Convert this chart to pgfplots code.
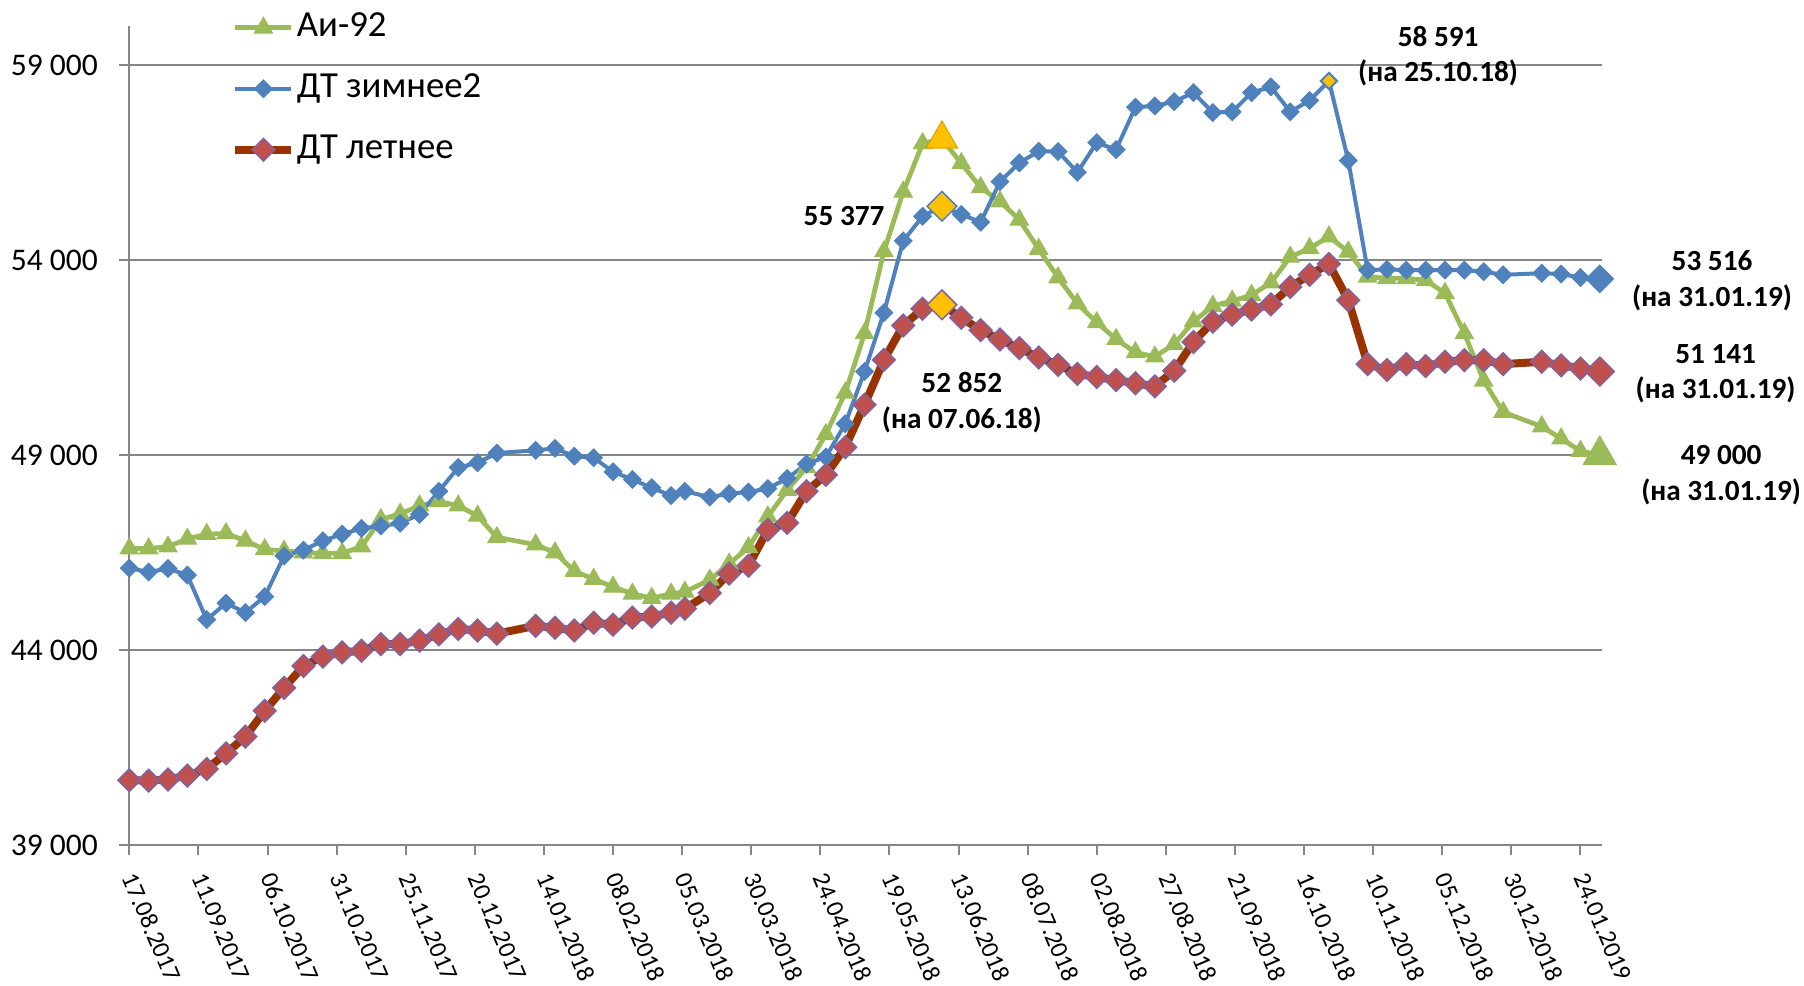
\documentclass[border=0pt]{standalone}
\usepackage{pgfplots}
\pgfplotsset{compat=1.18}
\usepackage{fontspec}
\setmainfont{Carlito}
\definecolor{gr}{HTML}{9BBB59}
\definecolor{bl}{HTML}{4F81BD}
\definecolor{rline}{HTML}{993300}
\definecolor{rfill}{HTML}{C0504D}
\definecolor{rdraw}{HTML}{8064A2}
\definecolor{yel}{HTML}{FFC000}
\definecolor{axgray}{HTML}{868686}
\tikzset{lbl/.style={font=\bfseries\fontsize{11.7}{14}\selectfont, inner sep=0pt, anchor=base}}
\begin{document}
\begin{tikzpicture}
\begin{axis}[
  scale only axis, width=589.08pt, height=327.6pt,
  xmin=0, xmax=532.8, ymin=39000, ymax=60000,
  axis lines*=left,
  axis line style={draw=axgray, line width=0.8pt},
  scaled y ticks=false, scaled x ticks=false,
  ytick={39000,44000,49000,54000,59000},
  yticklabels={39 000,44 000,49 000,54 000,59 000},
  xtick={0,25,...,525},
  xticklabels={17.08.2017,11.09.2017,06.10.2017,31.10.2017,25.11.2017,20.12.2017,14.01.2018,08.02.2018,05.03.2018,30.03.2018,24.04.2018,19.05.2018,13.06.2018,08.07.2018,02.08.2018,27.08.2018,21.09.2018,16.10.2018,10.11.2018,05.12.2018,30.12.2018,24.01.2019},
  ymajorgrids, grid style={draw=axgray, line width=0.8pt},
  tick align=outside, major tick length=4pt,
  tick style={draw=axgray, line width=0.8pt},
  xticklabel style={font=\fontsize{10}{12}\selectfont, inner sep=0pt, yshift=-7.6pt, rotate=-67, anchor=west},
  yticklabel style={font=\fontsize{12.6}{15}\selectfont, anchor=east, inner sep=0pt, xshift=-8.4pt},
  clip=false,
  legend cell align=left,
  legend style={at={(0.069,1.0201)}, anchor=north west, draw=none, fill=none,
    inner sep=0pt, row sep=10.2pt, font=\fontsize{14.7}{17}\selectfont,
    nodes={inner sep=0.6pt, text height=10pt, text depth=3pt}},
  legend image code/.code={\draw[mark repeat=2, mark phase=2, #1] plot coordinates {(0pt,0pt) (11.2pt,0pt) (22.4pt,0pt)};},
]
% Ai-92
\addplot[color=gr, line width=1.9pt, mark=triangle*, mark size=4.2pt,
  mark options={fill=gr, draw=gr, line width=0.4pt, solid}] coordinates {
(0,46600) (7,46600) (14,46650) (21,46850) (28,46970) (35,46990) (42,46800) (49,46580)
(56,46540) (63,46500) (70,46480) (77,46480) (84,46650) (91,47350) (98,47490) (105,47700)
(112,47810) (119,47700) (126,47440) (133,46890) (147,46700) (154,46500) (161,46020) (168,45820)
(175,45620) (182,45440) (189,45330) (196,45440) (201,45490) (210,45800) (217,46210) (224,46630)
(231,47420) (238,48100) (245,48680) (252,49530) (259,50590) (266,52120) (273,54220) (280,55750)
(287,56990) (294,57100) (301,56480) (308,55860) (315,55500) (322,55030) (329,54280) (336,53550)
(343,52880) (350,52400) (357,51970) (364,51630) (371,51520) (378,51840) (385,52420) (392,52820)
(399,52950) (406,53100) (413,53420) (420,54080) (427,54300) (434,54600) (441,54210) (448,53570)
(455,53530) (462,53530) (469,53480) (476,53150) (483,52120) (490,50900) (497,50100) (511,49730)
(518,49420) (525,49100) (532,49000)
};
\addlegendentry{Аи-92}
% DT winter
\addplot[color=bl, line width=1.6pt, mark=square*, mark size=2.5pt,
  mark options={fill=bl, draw=bl, line width=0.4pt, rotate=45, solid}] coordinates {
(0,46100) (7,46000) (14,46090) (21,45920) (28,44780) (35,45200) (42,44960) (49,45370)
(56,46410) (63,46560) (70,46800) (77,46970) (84,47120) (91,47180) (98,47250) (105,47480)
(112,48070) (119,48680) (126,48800) (133,49050) (147,49120) (154,49170) (161,48970) (168,48930)
(175,48570) (182,48370) (189,48160) (196,47960) (201,48070) (210,47920) (217,48010) (224,48050)
(231,48140) (238,48400) (245,48770) (252,48950) (259,49800) (266,51140) (273,52650) (280,54490)
(287,55120) (294,55377) (301,55170) (308,54970) (315,56010) (322,56490) (329,56790) (336,56780)
(343,56250) (350,57010) (357,56830) (364,57920) (371,57950) (378,58060) (385,58290) (392,57780)
(399,57800) (406,58290) (413,58440) (420,57800) (427,58090) (434,58591) (441,56550) (448,53740)
(455,53760) (462,53740) (469,53740) (476,53740) (483,53740) (490,53700) (497,53620) (511,53660)
(518,53640) (525,53550) (532,53516)
};
\addlegendentry{ДТ зимнее2}
% DT summer
\addplot[color=rline, line width=3.2pt, mark=square*, mark size=3.2pt,
  mark options={fill=rfill, draw=rdraw, line width=0.6pt, rotate=45, solid}] coordinates {
(0,40660) (7,40650) (14,40680) (21,40780) (28,40950) (35,41350) (42,41780) (49,42440)
(56,43030) (63,43590) (70,43830) (77,43940) (84,43980) (91,44150) (98,44150) (105,44240)
(112,44400) (119,44540) (126,44500) (133,44420) (147,44620) (154,44570) (161,44500) (168,44700)
(175,44650) (182,44830) (189,44860) (196,44960) (201,45060) (210,45460) (217,45960) (224,46160)
(231,47080) (238,47260) (245,48070) (252,48490) (259,49200) (266,50290) (273,51440) (280,52320)
(287,52750) (294,52852) (301,52520) (308,52200) (315,51960) (322,51740) (329,51500) (336,51310)
(343,51080) (350,51000) (357,50920) (364,50840) (371,50760) (378,51160) (385,51900) (392,52420)
(399,52600) (406,52730) (413,52860) (420,53310) (427,53620) (434,53900) (441,52970) (448,51330)
(455,51180) (462,51330) (469,51280) (476,51390) (483,51430) (490,51430) (497,51330) (511,51390)
(518,51300) (525,51220) (532,51141)
};
\addlegendentry{ДТ летнее}
% highlighted points
\addplot[forget plot, only marks, mark=triangle*, mark size=7.3pt,
  mark options={fill=yel, draw=yel!85!black, line width=0.4pt}] coordinates {(294,57100)};
\addplot[forget plot, only marks, mark=square*, mark size=4.2pt,
  mark options={fill=yel, draw=bl, line width=0.6pt, rotate=45}] coordinates {(294,55377)};
\addplot[forget plot, only marks, mark=square*, mark size=4.2pt,
  mark options={fill=yel, draw=rdraw, line width=0.6pt, rotate=45}] coordinates {(294,52852)};
\addplot[forget plot, only marks, mark=square*, mark size=2.2pt,
  mark options={fill=yel, draw=bl, line width=0.6pt, rotate=45}] coordinates {(434,58591)};
\addplot[forget plot, only marks, mark=triangle*, mark size=7.6pt,
  mark options={fill=gr, draw=gr, line width=0.4pt}] coordinates {(532,49000)};
\addplot[forget plot, only marks, mark=square*, mark size=3.9pt,
  mark options={fill=bl, draw=bl, line width=0.4pt, rotate=45}] coordinates {(532,53516)};
\addplot[forget plot, only marks, mark=square*, mark size=4.1pt,
  mark options={fill=rfill, draw=rdraw, line width=0.6pt, rotate=45}] coordinates {(532,51141)};
% data labels
\node[lbl] at (axis cs:258.6,54872) {55 377};
\node[lbl] at (axis cs:301.2,50597) {52 852};
\node[lbl] at (axis cs:301.2,49692) {(на 07.06.18)};
\node[lbl] at (axis cs:473.5,59469) {58 591};
\node[lbl] at (axis cs:473.5,58572) {(на 25.10.18)};
\node[lbl] at (axis cs:572.6,53733) {53 516};
\node[lbl] at (axis cs:572.6,52810) {(на 31.01.19)};
\node[lbl] at (axis cs:573.9,51351) {51 141};
\node[lbl] at (axis cs:573.9,50454) {(на 31.01.19)};
\node[lbl] at (axis cs:575.9,48744) {49 000};
\node[lbl] at (axis cs:575.9,47846) {(на 31.01.19)};
\end{axis}
\pgfresetboundingbox
\path[use as bounding box] (-51.72pt,-56pt) rectangle (669.88pt,338pt);
\end{tikzpicture}
\end{document}
